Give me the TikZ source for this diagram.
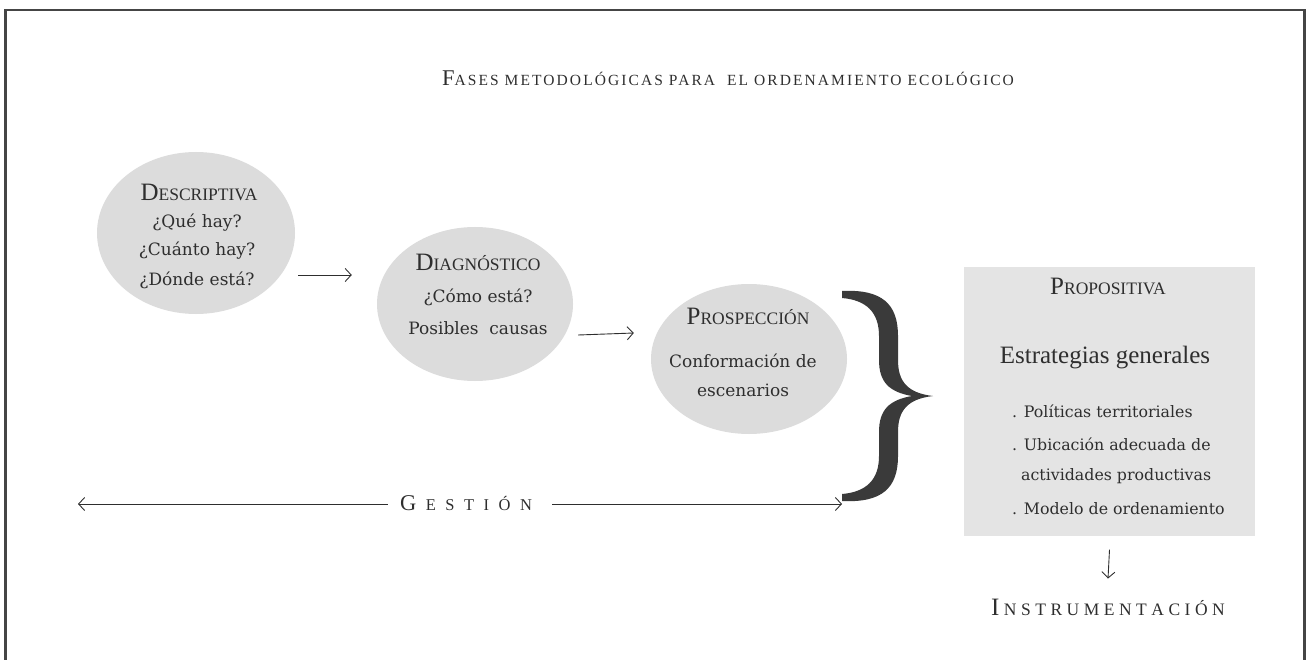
\documentclass[tikz,border=0pt]{standalone}
\usepackage{fontspec}
\newfontfamily\bodyf{DejaVu Serif}
\newfontfamily\capf{Liberation Serif}
\newfontfamily\capfs{Liberation Serif}[LetterSpace=13.5]
\usetikzlibrary{arrows.meta,shapes.geometric}
\definecolor{ink}{HTML}{2E2E2E}
\definecolor{bubble}{HTML}{DCDCDC}
\definecolor{boxfill}{HTML}{E4E4E4}
\definecolor{framec}{HTML}{454545}
\definecolor{bracec}{HTML}{3A3A3A}
% fake small caps: big initial + smaller capitals
\newcommand\FSC[4]{{\capf\fontsize{#1}{#1}\selectfont #3}{\capf\fontsize{#2}{#2}\selectfont #4}}
\newcommand\FSCs[4]{{\capfs\fontsize{#1}{#1}\selectfont #3}{\capfs\fontsize{#2}{#2}\selectfont #4}}
\tikzset{
  bub/.style={ellipse, fill=bubble, inner sep=0pt},
  headtxt/.style={text=ink, inner sep=0pt},
  bodytxt/.style={text=ink, inner sep=0pt, font=\bodyf\fontsize{17}{20}\selectfont},
  listtxt/.style={text=ink, inner sep=0pt, font=\bodyf\fontsize{15.8}{19}\selectfont},
  flow/.style={draw=ink, line width=0.9pt, -{Straight Barb[length=6pt,width=13pt,line width=0.9pt]}},
}
\begin{document}
\begin{tikzpicture}[x=1pt,y=-1pt]
\useasboundingbox (0,0) rectangle (1308,660);
% frame
\draw[framec, line width=2.4pt] (5.5,660) -- (5.5,10) -- (1304.5,10) -- (1304.5,660);
% title
\node[headtxt] (title) at (728,78) {\FSCs{22.5}{15.5}{F}{ASES METODOLÓGICAS PARA\ \ EL ORDENAMIENTO ECOLÓGICO}};
% bubbles
\node[bub, minimum width=198pt, minimum height=162pt] (d1) at (196,233) {};
\node[bub, minimum width=196pt, minimum height=154pt] (d2) at (475,304) {};
\node[bub, minimum width=196pt, minimum height=150pt] (d3) at (749,359) {};
% texts
\node[headtxt] (t1) at (199,192) {\FSC{25}{17.5}{D}{ESCRIPTIVA}};
\node[bodytxt] (t1a) at (197,223) {¿Qué hay?};
\node[bodytxt] (t1b) at (197,251) {¿Cuánto hay?};
\node[bodytxt] (t1c) at (197,280) {¿Dónde está?};
\node[headtxt] (t2) at (478,262) {\FSC{25}{17.5}{D}{IAGNÓSTICO}};
\node[bodytxt] (t2a) at (478,297) {¿Cómo está?};
\node[bodytxt] (t2b) at (478,328) {Posibles\ \ causas};
\node[headtxt] (t3) at (748,316) {\FSC{25}{17.5}{P}{ROSPECCIÓN}};
\node[bodytxt] (t3a) at (743,361) {Conformación de};
\node[bodytxt] (t3b) at (743,390) {escenarios};
% arrows between bubbles
\draw[flow] ([shift={(3,42)}]d1.east) -- ([shift={(-25,-29)}]d2.west);
\draw[flow] ([shift={(5,31)}]d2.east) -- ([shift={(-17,-26)}]d3.west);
% brace
\fill[bracec] (842,291) .. controls (882,289) and (898,304) .. (898,336) -- (898,360)
  .. controls (898,381) and (907,393) .. (933,396)
  .. controls (907,399) and (898,411) .. (898,432) -- (898,456)
  .. controls (898,488) and (882,503) .. (842,501) -- (842,494)
  .. controls (866,492) and (879,480) .. (879,456) -- (879,432)
  .. controls (879,410) and (889,400) .. (912,396)
  .. controls (889,392) and (879,382) .. (879,360) -- (879,336)
  .. controls (879,312) and (866,300) .. (842,298) -- cycle;
% propositiva box
\node[fill=boxfill, minimum width=291pt, minimum height=269pt, inner sep=0pt] (prop) at (1109.5,401) {};
\node[headtxt] (p0) at (1108,286) {\FSC{25}{17.5}{P}{ROPOSITIVA}};
\node[text=ink, inner sep=0pt, font=\capf\fontsize{25}{28}\selectfont] (p1) at (1105,358) {Estrategias generales};
\node[listtxt, anchor=west] (p2) at (1012,411) {. Políticas territoriales};
\node[listtxt, anchor=west] (p3) at (1012,444) {. Ubicación adecuada de};
\node[listtxt, anchor=west] (p4) at (1021,476) {actividades productivas};
\node[listtxt, anchor=west] (p5) at (1012,509) {. Modelo de ordenamiento};
% instrumentacion
\node[headtxt] (inst) at (1108,607) {\FSC{25}{17.5}{I\hspace{4.5pt}}{N\hspace{4.5pt}S\hspace{4.5pt}T\hspace{4.5pt}R\hspace{4.5pt}U\hspace{4.5pt}M\hspace{4.5pt}E\hspace{4.5pt}N\hspace{4.5pt}T\hspace{4.5pt}A\hspace{4.5pt}C\hspace{4.5pt}I\hspace{4.5pt}Ó\hspace{4.5pt}N}};
\draw[flow] ([yshift=-14pt]prop.south) -- ([yshift=20pt]inst.north);
% gestion
\node[headtxt] (ges) at (466,503) {\FSC{22.5}{16.5}{G\hspace{9.5pt}}{E\hspace{9.5pt}S\hspace{9.5pt}T\hspace{9.5pt}I\hspace{9.5pt}Ó\hspace{9.5pt}N}};
\coordinate (gl) at (78,504);
\coordinate (gr) at (842,504);
\draw[flow] ([xshift=-12pt]ges.west |- gl) -- (gl);
\draw[flow] ([xshift=20pt]ges.east |- gr) -- (gr);
\end{tikzpicture}
\end{document}
